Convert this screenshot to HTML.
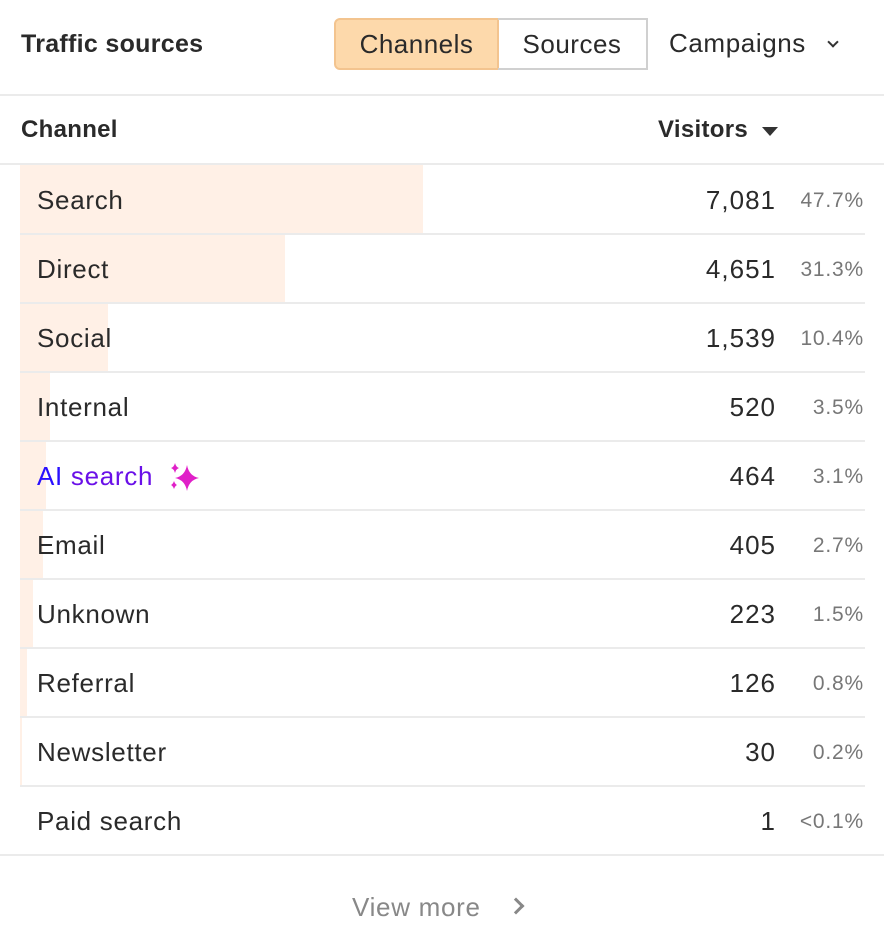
<!DOCTYPE html>
<html><head><meta charset="utf-8"><style>
*{margin:0;padding:0;box-sizing:border-box}
body{width:884px;height:952px;background:#fff;font-family:"Liberation Sans",sans-serif;color:#2a2a2a;position:relative;overflow:hidden}
.a{position:absolute;white-space:nowrap}
.line{position:absolute;height:2px;background:#ebebeb}
.bar{position:absolute;left:20px;height:69px;background:#fff0e6}
.lab{position:absolute;left:37px;font-size:26px;line-height:69px;letter-spacing:0.7px;white-space:nowrap}
.num{position:absolute;right:108px;font-size:26px;line-height:69px;text-align:right;letter-spacing:1px}
.pct{position:absolute;right:20px;font-size:21px;line-height:69px;color:#777;text-align:right;letter-spacing:0.8px}
</style></head><body>
<div class="a" style="left:21px;top:30px;font-size:25px;font-weight:bold;letter-spacing:0.3px">Traffic sources</div>
<div class="a" style="left:334px;top:18px;width:165px;height:52px;background:#fdd9ab;border:2px solid #f3c48f;border-radius:6px 0 0 6px;font-size:26px;line-height:48px;text-align:center;letter-spacing:0.5px">Channels</div>
<div class="a" style="left:498px;top:18px;width:150px;height:52px;border:2px solid #d0d0d0;border-left:none;font-size:26px;line-height:48px;text-align:center;letter-spacing:0.5px">Sources</div>
<div class="a" style="left:669px;top:28px;font-size:26px;letter-spacing:0.6px">Campaigns</div>
<div class="a" style="left:829px;top:38px;width:8px;height:8px;border-right:2px solid #333;border-bottom:2px solid #333;transform:rotate(45deg)"></div>
<div class="line" style="left:0;right:0;top:94px"></div>
<div class="a" style="left:21px;top:116px;font-size:24px;font-weight:bold;letter-spacing:0.3px">Channel</div>
<div class="a" style="left:658px;top:116px;font-size:24px;font-weight:bold;letter-spacing:0.3px">Visitors</div>
<div class="a" style="left:762px;top:127px;width:0;height:0;border-left:8px solid transparent;border-right:8px solid transparent;border-top:9px solid #333"></div>
<div class="line" style="left:0;right:0;top:163px"></div>

<div class="bar" style="top:165px;width:403px"></div>
<div class="bar" style="top:234px;width:265px"></div>
<div class="bar" style="top:303px;width:88px"></div>
<div class="bar" style="top:372px;width:30px"></div>
<div class="bar" style="top:441px;width:26px"></div>
<div class="bar" style="top:510px;width:23px"></div>
<div class="bar" style="top:579px;width:13px"></div>
<div class="bar" style="top:648px;width:7px"></div>
<div class="bar" style="top:717px;width:2px"></div>

<div class="line" style="left:20px;right:19px;top:233px"></div>
<div class="line" style="left:20px;right:19px;top:302px"></div>
<div class="line" style="left:20px;right:19px;top:371px"></div>
<div class="line" style="left:20px;right:19px;top:440px"></div>
<div class="line" style="left:20px;right:19px;top:509px"></div>
<div class="line" style="left:20px;right:19px;top:578px"></div>
<div class="line" style="left:20px;right:19px;top:647px"></div>
<div class="line" style="left:20px;right:19px;top:716px"></div>
<div class="line" style="left:20px;right:19px;top:785px"></div>
<div class="line" style="left:0;right:0;top:854px"></div>

<div class="lab" style="top:166px">Search</div><div class="num" style="top:166px">7,081</div><div class="pct" style="top:166px">47.7%</div>
<div class="lab" style="top:235px">Direct</div><div class="num" style="top:235px">4,651</div><div class="pct" style="top:235px">31.3%</div>
<div class="lab" style="top:304px">Social</div><div class="num" style="top:304px">1,539</div><div class="pct" style="top:304px">10.4%</div>
<div class="lab" style="top:373px">Internal</div><div class="num" style="top:373px">520</div><div class="pct" style="top:373px">3.5%</div>
<div class="lab" style="top:442px"><span style="color:#2a10ff">AI </span><span style="color:#6a10e8">search</span></div>
<svg class="a" style="left:168px;top:461px" width="32" height="32" viewBox="0 0 32 32"><path fill="#e020c8" d="M19 4 Q21 15 31 17 Q21 19 19 30 Q17 19 7 17 Q17 15 19 4Z M7 2 Q8 6 11 7 Q8 8 7 12 Q6 8 3 7 Q6 6 7 2Z M6 20 Q7 23 9 24 Q7 25 6 28 Q5 25 3 24 Q5 23 6 20Z"/></svg>
<div class="num" style="top:442px">464</div><div class="pct" style="top:442px">3.1%</div>
<div class="lab" style="top:511px">Email</div><div class="num" style="top:511px">405</div><div class="pct" style="top:511px">2.7%</div>
<div class="lab" style="top:580px">Unknown</div><div class="num" style="top:580px">223</div><div class="pct" style="top:580px">1.5%</div>
<div class="lab" style="top:649px">Referral</div><div class="num" style="top:649px">126</div><div class="pct" style="top:649px">0.8%</div>
<div class="lab" style="top:718px">Newsletter</div><div class="num" style="top:718px">30</div><div class="pct" style="top:718px">0.2%</div>
<div class="lab" style="top:787px">Paid search</div><div class="num" style="top:787px">1</div><div class="pct" style="top:787px">&lt;0.1%</div>

<div class="a" style="left:352px;top:892px;font-size:26px;color:#888;letter-spacing:0.7px">View more</div>
<div class="a" style="left:510px;top:900px;width:12px;height:12px;border-right:3px solid #888;border-top:3px solid #888;transform:rotate(45deg)"></div>
</body></html>
